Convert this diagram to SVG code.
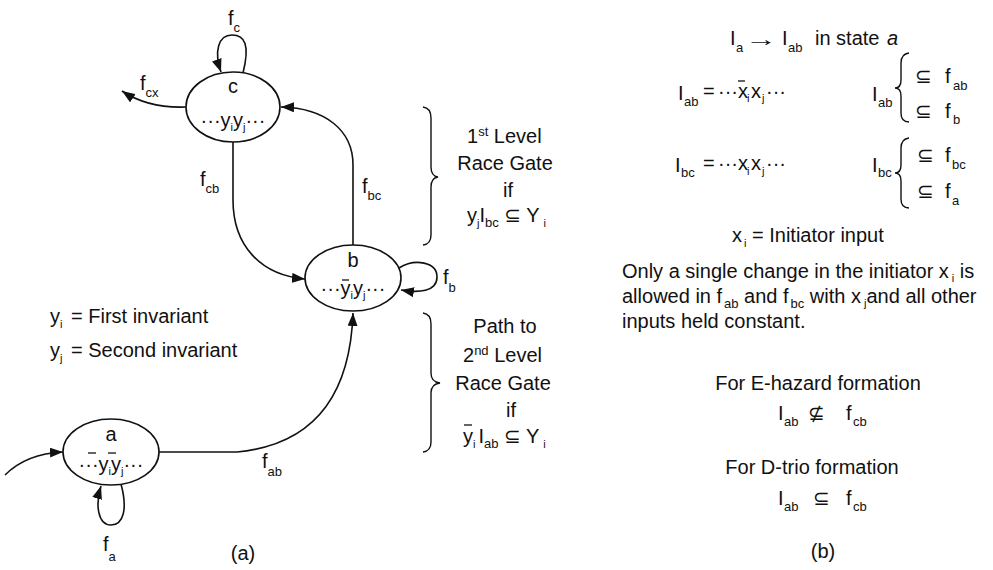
<svg xmlns="http://www.w3.org/2000/svg" width="993" height="570" viewBox="0 0 993 570">
<defs>
<style>
text{font-family:"Liberation Sans","DejaVu Sans",Arial,sans-serif;font-size:20px;fill:#111}
.s{font-size:13px}
.ss{font-size:11px}
.m{text-anchor:middle}
.n{fill:#fff;stroke:#111;stroke-width:1.6}
.e{fill:none;stroke:#111;stroke-width:1.6}
.br{fill:none;stroke:#111;stroke-width:1.4}
.bar{stroke:#111;stroke-width:1.3}
</style>
<marker id="ar" markerUnits="userSpaceOnUse" markerWidth="14" markerHeight="10" refX="13" refY="5" orient="auto">
<path d="M0,0 L13,5 L0,10 z" fill="#111"/>
</marker>
</defs>
<rect width="993" height="570" fill="#fff"/>

<g id="connectors">
<path class="e" d="M243,73 C250,45 245,35 232,35 C218,35 214,52 221,72" marker-end="url(#ar)"/>
<path class="e" d="M186,107 C160,108 140,103 122,91" marker-end="url(#ar)"/>
<path class="e" d="M233,142 L233,200 C233,245 260,275 305,279" marker-end="url(#ar)"/>
<path class="e" d="M353,245 L353,165 C353,130 325,108 281,107" marker-end="url(#ar)"/>
<path class="e" d="M399,268 C415,258 437,262 437,277 C437,292 418,293 401,290" marker-end="url(#ar)"/>
<path class="e" d="M159,452 L237,452 C310,445 350,400 353,313" marker-end="url(#ar)"/>
<path class="e" d="M5,475 C20,460 40,453 63,452" marker-end="url(#ar)"/>
<path class="e" d="M121,484 C128,510 123,525 111,525 C98,525 95,505 101,486" marker-end="url(#ar)"/>
<text x="228" y="25">f<tspan class="s" dy="7">c</tspan></text>
<text x="140" y="90">f<tspan class="s" dy="7">cx</tspan></text>
<text x="200" y="186">f<tspan class="s" dy="7">cb</tspan></text>
<text x="362" y="193">f<tspan class="s" dy="7">bc</tspan></text>
<text x="443" y="284">f<tspan class="s" dy="8">b</tspan></text>
<text x="262" y="468">f<tspan class="s" dy="8">ab</tspan></text>
<text x="103" y="551">f<tspan class="s" dy="10">a</tspan></text>
</g>

<g id="node-c">
<ellipse class="n" cx="233" cy="107" rx="47" ry="35"/>
<text class="m" x="233" y="93" font-size="21">c</text>
<text class="m" x="233" y="127" font-size="18">···y<tspan class="ss" dy="4">i</tspan><tspan dy="-4">y</tspan><tspan class="ss" dy="4">j</tspan><tspan dy="-4">···</tspan></text>
</g>

<g id="node-b">
<ellipse class="n" cx="353" cy="278" rx="48" ry="33"/>
<text class="m" x="353" y="267" font-size="21">b</text>
<text class="m" x="353" y="295" font-size="18">···y<tspan class="ss" dy="4">i</tspan><tspan dy="-4">y</tspan><tspan class="ss" dy="4">j</tspan><tspan dy="-4">···</tspan></text>
<line class="bar" x1="342" y1="280" x2="349" y2="280"/>
</g>

<g id="node-a">
<ellipse class="n" cx="111" cy="452" rx="48" ry="33"/>
<text class="m" x="111" y="441" font-size="21">a</text>
<text class="m" x="111" y="471" font-size="18">···y<tspan class="ss" dy="4">i</tspan><tspan dy="-4">y</tspan><tspan class="ss" dy="4">j</tspan><tspan dy="-4">···</tspan></text>
<line class="bar" x1="88" y1="453" x2="96" y2="453"/>
<line class="bar" x1="108" y1="453" x2="116" y2="453"/>
</g>

<g id="legend">
<text x="50" y="323">y<tspan class="ss" dy="5">i</tspan></text>
<text x="71" y="323">= First invariant</text>
<text x="50" y="357">y<tspan class="ss" dy="5">j</tspan></text>
<text x="71" y="357">= Second invariant</text>
<text class="m" x="243" y="560">(a)</text>
</g>

<g id="race-gate-1">
<path class="br" d="M423,107 Q431,108 431,118 L431,167 Q431,176 438,177 Q431,178 431,187 L431,235 Q431,244 423,245"/>
<text x="467" y="143">1<tspan class="s" dy="-7">st</tspan><tspan dy="7"> Level</tspan></text>
<text class="m" x="505" y="170">Race Gate</text>
<text class="m" x="508" y="197">if</text>
<text x="467" y="222">y<tspan class="ss" dy="5">j</tspan><tspan dy="-5">I</tspan><tspan class="s" dy="5">bc</tspan><tspan dy="-5"> ⊆ Y</tspan><tspan class="ss" dy="5" dx="4">i</tspan></text>
</g>

<g id="race-gate-2">
<path class="br" d="M423,313 Q431,314 431,324 L431,373 Q431,382 440,383 Q431,384 431,393 L431,442 Q431,451 423,452"/>
<text class="m" x="505" y="333">Path to</text>
<text x="463" y="362">2<tspan class="s" dy="-7">nd</tspan><tspan dy="7"> Level</tspan></text>
<text class="m" x="503" y="390">Race Gate</text>
<text class="m" x="511" y="417">if</text>
<text x="463" y="443">y<tspan class="ss" dy="5">i</tspan><tspan dy="-5" dx="3">I</tspan><tspan class="s" dy="5">ab</tspan><tspan dy="-5"> ⊆ Y</tspan><tspan class="ss" dy="5" dx="4">i</tspan></text>
<line class="bar" x1="464" y1="425" x2="472" y2="425"/>
</g>

<g id="panel-b">
<text x="730" y="45">I</text><text class="s" x="736" y="52">a</text>
<text transform="translate(745,46) scale(1.6,1)" x="0" y="0">→</text>
<text x="782" y="45">I</text><text class="s" x="788" y="52">ab</text>
<text x="815" y="45">in state</text>
<text x="887" y="45" font-style="italic">a</text>

<text x="678" y="100" font-size="21">I</text><text class="s" x="684" y="106">ab</text>
<text x="703" y="98">=</text>
<text x="718" y="98">···x</text>
<line class="bar" x1="738" y1="81" x2="745" y2="81"/>
<text class="ss" x="747" y="102">i</text>
<text x="751" y="98">x</text>
<text class="ss" x="762" y="102">j</text>
<text x="766" y="98">···</text>
<text x="872" y="101" font-size="21">I</text><text class="s" x="878" y="107">ab</text>
<path class="br" d="M909,53 Q901,54 901,63 L901,80 Q901,88 895,88 Q901,88 901,96 L901,113 Q901,122 909,122"/>
<text x="915" y="83">⊆</text><text x="945" y="83" font-size="22">f</text><text class="s" x="953" y="90">ab</text>
<text x="915" y="118">⊆</text><text x="945" y="118" font-size="22">f</text><text class="s" x="953" y="124">b</text>

<text x="675" y="172" font-size="21">I</text><text class="s" x="681" y="177">bc</text>
<text x="703" y="170">=</text>
<text x="718" y="170">···x</text>
<text class="ss" x="747" y="175">i</text>
<text x="751" y="170">x</text>
<text class="ss" x="762" y="175">j</text>
<text x="766" y="170">···</text>
<text x="872" y="172" font-size="21">I</text><text class="s" x="878" y="177">bc</text>
<path class="br" d="M909,138 Q901,139 901,148 L901,165 Q901,173 895,173 Q901,173 901,181 L901,199 Q901,208 909,208"/>
<text x="917" y="162">⊆</text><text x="945" y="162">f</text><text class="s" x="952" y="169">bc</text>
<text x="917" y="198">⊆</text><text x="945" y="198">f</text><text class="s" x="952" y="205">a</text>

<text x="732" y="242">x</text><text class="ss" x="744" y="247">i</text>
<text x="752" y="242">= Initiator input</text>

<text x="622" y="278">Only a single change in the initiator x<tspan class="ss" dy="4" dx="3">i</tspan><tspan dy="-4"> is</tspan></text>
<text x="622" y="303">allowed in f<tspan class="s" dy="5" dx="2">ab</tspan><tspan dy="-5"> and f</tspan><tspan class="s" dy="5" dx="2">bc</tspan><tspan dy="-5"> with x</tspan><tspan class="ss" dy="4" dx="3">j</tspan><tspan dy="-4">and all other</tspan></text>
<text x="622" y="328">inputs held constant.</text>

<text class="m" x="818" y="390">For E-hazard formation</text>
<text x="778" y="420" font-size="21">I</text><text class="s" x="784" y="426">ab</text>
<text x="808" y="420">⊈</text>
<text x="846" y="420" font-size="21">f</text><text class="s" x="853" y="426">cb</text>
<text class="m" x="812" y="474">For D-trio formation</text>
<text x="778" y="505" font-size="21">I</text><text class="s" x="784" y="511">ab</text>
<text x="813" y="505">⊆</text>
<text x="846" y="505" font-size="21">f</text><text class="s" x="853" y="511">cb</text>
<text class="m" x="823" y="558">(b)</text>
</g>
</svg>
